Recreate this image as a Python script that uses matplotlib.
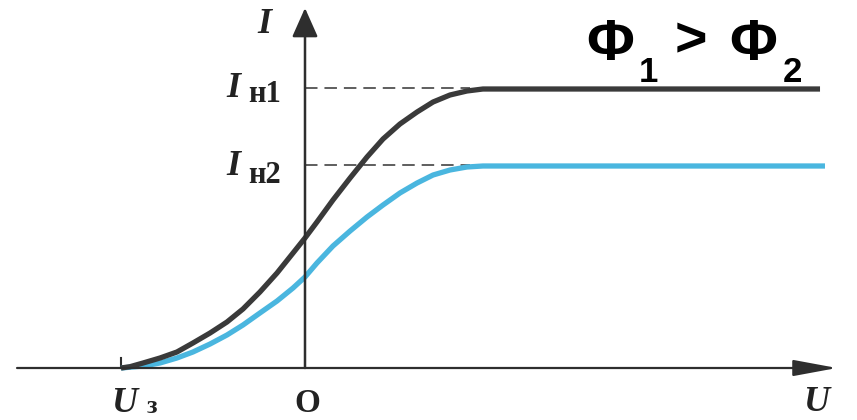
import matplotlib
matplotlib.use("Agg")
import matplotlib.pyplot as plt

plt.rcParams['lines.scale_dashes'] = False

# ---- data (U in units of |U_z|, I in arbitrary units) ----
u_stop = -1.0
i_sat1 = 2.80
i_sat2 = 2.03

u_grid = [-1.000, -0.951, -0.880, -0.788, -0.696, -0.609, -0.516, -0.424, -0.337,
          -0.245, -0.152, -0.065, 0.000, 0.065, 0.152, 0.245, 0.337, 0.424,
          0.516, 0.609, 0.696, 0.788, 0.880, 0.967]
i_black = [0.00, 0.013, 0.05, 0.10, 0.16, 0.25, 0.35, 0.46, 0.59,
           0.76, 0.95, 1.15, 1.30, 1.46, 1.68, 1.90, 2.11, 2.29,
           2.44, 2.56, 2.66, 2.73, 2.77, 2.79]
i_blue = [0.00, 0.008, 0.02, 0.05, 0.10, 0.16, 0.24, 0.33, 0.43,
          0.55, 0.67, 0.80, 0.91, 1.05, 1.22, 1.37, 1.51, 1.63,
          1.75, 1.85, 1.93, 1.98, 2.01, 2.02]
u_end_black = 2.799
u_end_blue = 2.826

u_dash_end = 0.897

fig = plt.figure(figsize=(8.57, 4.20), dpi=100)
ax = fig.add_axes([0, 0, 1, 1])
ax.set_xlim(-305 / 184, (857 - 305) / 184)
ax.set_ylim(-0.52, 3.68)
ax.axis('off')

axis_col = '#2e2e2e'
# axes with arrows
ax.annotate('', xy=(2.891, 0), xytext=(-1.565, 0),
            arrowprops=dict(arrowstyle='-|>,head_length=2.7,head_width=0.5',
                            mutation_scale=10, color=axis_col, lw=1.6,
                            shrinkA=0, shrinkB=0))
ax.annotate('', xy=(0, 3.60), xytext=(0, 0),
            arrowprops=dict(arrowstyle='-|>,head_length=1.8,head_width=0.8',
                            mutation_scale=10, color=axis_col, lw=1.8,
                            shrinkA=0, shrinkB=0))
# U_z tick
ax.plot([u_stop, u_stop], [0, 0.10], color=axis_col, lw=1.5)

# dashed saturation guides
for lvl in (i_sat1, i_sat2):
    ax.plot([0, u_dash_end], [lvl, lvl], color='#333333', lw=1.1,
            dashes=(9, 5))

# curves
ax.plot(u_grid + [u_end_blue], i_blue + [i_blue[-1]], color='#4ab6df', lw=3.8,
        solid_capstyle='butt', solid_joinstyle='round')
ax.plot(u_grid + [u_end_black], i_black + [i_black[-1]], color='#3a3a3a', lw=3.8,
        solid_capstyle='butt', solid_joinstyle='round')

def px(x, y):
    return ((x - 305) / 184, (368 - y) / 100)

serif = 'Liberation Serif'
tc = '#222222'
# axis labels
ax.text(*px(264, 33), 'I', fontfamily=serif, style='italic', weight='bold',
        fontsize=26, ha='center', va='baseline', color=tc)
ax.text(*px(816, 411), 'U', fontfamily=serif, style='italic', weight='bold',
        fontsize=26, ha='center', va='baseline', color=tc)
ax.text(*px(307, 412), 'O', fontfamily=serif, weight='bold',
        fontsize=24, ha='center', va='baseline', color=tc)
ax.text(*px(124, 412), 'U', fontfamily=serif, style='italic', weight='bold',
        fontsize=26, ha='center', va='baseline', color=tc)
ax.text(*px(147, 413), 'з', fontfamily=serif, weight='bold',
        fontsize=19, ha='left', va='baseline', color=tc)

# saturation labels
for lab, yb_i, yb_s in (('н1', 97, 102), ('н2', 175, 183)):
    ax.text(*px(233, yb_i), 'I', fontfamily=serif, style='italic', weight='bold',
            fontsize=26, ha='center', va='baseline', color=tc)
    ax.text(*px(248, yb_s), lab, fontfamily=serif, weight='bold',
            fontsize=22, ha='left', va='baseline', color=tc)

# Phi annotation
sans = 'Liberation Sans'
ax.text(*px(610, 60), 'Φ', fontfamily=sans, weight='bold', fontsize=42,
        ha='center', va='baseline', color='black')
ax.text(*px(648, 82), '1', fontfamily=sans, weight='bold', fontsize=25,
        ha='center', va='baseline', color='black')
ax.text(*px(691, 56), '>', fontfamily=sans, weight='bold', fontsize=40,
        ha='center', va='baseline', color='black')
ax.text(*px(753, 60), 'Φ', fontfamily=sans, weight='bold', fontsize=42,
        ha='center', va='baseline', color='black')
ax.text(*px(792, 82), '2', fontfamily=sans, weight='bold', fontsize=25,
        ha='center', va='baseline', color='black')

fig.savefig('out.png', dpi=100)
